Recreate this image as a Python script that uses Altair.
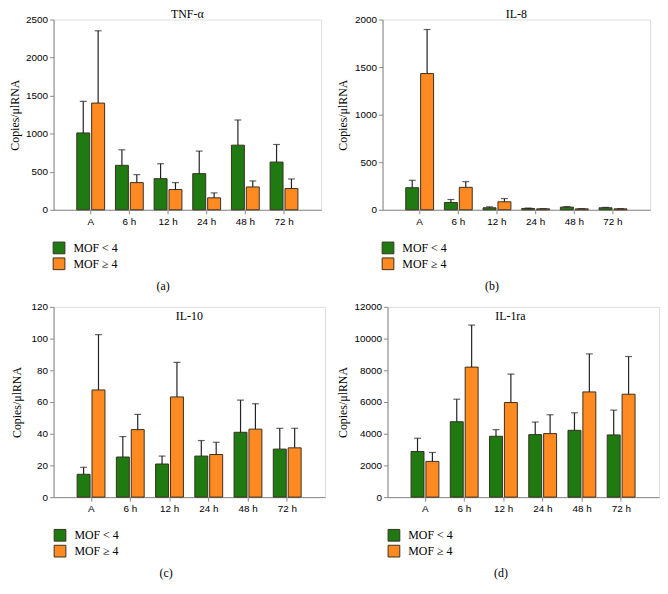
import altair as alt
import pandas as pd

SERIF = "Liberation Serif, Times New Roman, serif"
GREEN = "#1f7a12"
ORANGE = "#ff8a22"

times = ["A", "6 h", "12 h", "24 h", "48 h", "72 h"]
groups = ["MOF < 4", "MOF ≥ 4"]

# TNF-alpha
tnf_lo = [1010, 584, 409, 475, 849, 627]
tnf_lo_up = [1424, 788, 605, 771, 1180, 858]
tnf_hi = [1402, 357, 266, 157, 300, 279]
tnf_hi_up = [2352, 462, 357, 222, 379, 405]

# IL-8
il8_lo = [232, 77, 21, 14, 28, 21]
il8_lo_up = [310, 108, 31, 18, 34, 25]
il8_hi = [1432, 236, 84, 10, 10, 10]
il8_hi_up = [1895, 296, 118, 12, 12, 12]

# IL-10
il10_lo = [14.4, 25.3, 20.9, 25.9, 40.9, 30.3]
il10_lo_up = [18.8, 38.2, 25.9, 35.7, 61.2, 43.4]
il10_hi = [67.6, 42.6, 63.2, 26.9, 42.9, 31.1]
il10_hi_up = [102.5, 52.2, 85.0, 34.6, 58.9, 43.4]

# IL-1ra
il1_lo = [2880, 4758, 3840, 3944, 4215, 3923]
il1_lo_up = [3715, 6177, 4257, 4737, 5321, 5488]
il1_hi = [2254, 8201, 5968, 4007, 6636, 6490]
il1_hi_up = [2817, 10851, 7763, 5196, 9036, 8869]


def panel(name, lo, lo_up, hi, hi_up, dmax, step, width, caption,
          title_offset, title_dx, cap_x, leg_x, ypad):
    rows = []
    for i, t in enumerate(times):
        rows.append({"time": t, "group": groups[0], "value": lo[i], "upper": lo_up[i]})
        rows.append({"time": t, "group": groups[1], "value": hi[i], "upper": hi_up[i]})
    df = pd.DataFrame(rows)

    base = alt.Chart(df).encode(
        x=alt.X("time:N", sort=times,
                scale=alt.Scale(paddingInner=0.28, paddingOuter=0.6),
                axis=alt.Axis(title=caption, labelAngle=0, tickSize=4,
                              labelPadding=3, titleX=cap_x, titleY=76,
                              titleBaseline="middle", titleAlign="center",
                              titleFontSize=12, titleFont=SERIF,
                              titleFontWeight="normal")),
        xOffset=alt.XOffset("group:N", sort=groups,
                            scale=alt.Scale(paddingInner=0.13)),
    )
    yscale = alt.Scale(domain=[0, dmax], nice=False)
    yax = alt.Axis(values=list(range(0, dmax + 1, step)), format="d",
                   title="Copies/μlRNA", labelOverlap=False,
                   tickSize=4, titlePadding=ypad, titleFont=SERIF,
                   titleFontSize=12, titleFontWeight="normal", grid=False)
    bars = base.mark_bar(stroke="#3a3020", strokeWidth=1).encode(
        y=alt.Y("value:Q", scale=yscale, axis=yax),
        color=alt.Color("group:N", sort=groups,
                        scale=alt.Scale(domain=groups, range=[GREEN, ORANGE]),
                        legend=alt.Legend(orient="none", legendX=leg_x, legendY=224,
                                          title=None, symbolType="square",
                                          symbolSize=140, symbolStrokeColor="#3a3020",
                                          symbolStrokeWidth=1, labelFont=SERIF,
                                          labelFontSize=12, rowPadding=-1,
                                          padding=0, labelOffset=8)),
    )
    rules = base.mark_rule(color="#222", strokeWidth=1.2).encode(
        y=alt.Y("value:Q", scale=yscale, axis=yax), y2=alt.Y2("upper:Q"))
    caps = base.mark_tick(color="#222", size=7, thickness=1.2).encode(
        y=alt.Y("upper:Q", scale=yscale, axis=yax))
    return alt.layer(bars, rules, caps).properties(
        width=width, height=192,
        title=alt.TitleParams(text=name, font=SERIF, fontSize=12,
                              fontWeight="normal", offset=title_offset,
                              dx=title_dx, anchor="middle", frame="group"),
    )


a = panel("TNF-α", tnf_lo, tnf_lo_up, tnf_hi, tnf_hi_up, 2500, 500, 270, "(a)",
          -6, 0, 110, -1, 4)
b = panel("IL-8", il8_lo, il8_lo_up, il8_hi, il8_hi_up, 2000, 500, 270, "(b)",
          -6, 0, 110, -1, 5)
c = panel("IL-10", il10_lo, il10_lo_up, il10_hi, il10_hi_up, 120, 20, 274, "(c)",
          -21, 0, 113, 0, 8)
d = panel("IL-1ra", il1_lo, il1_lo_up, il1_hi, il1_hi_up, 12000, 2000, 274, "(d)",
          -21, -13, 114, 0, 5)

row1 = alt.hconcat(a, b, spacing=14).resolve_scale(color="independent")
row2 = alt.hconcat(c, d, spacing=9).resolve_scale(color="independent")

chart = alt.vconcat(row1, row2, spacing=9).resolve_scale(
    color="independent"
).properties(
    padding={"top": -4, "left": 0, "right": 0, "bottom": 0}
).configure_view(
    stroke="#888888", strokeWidth=1.5
).configure_axis(
    domainColor="#333333", tickColor="#333333", labelFont=SERIF,
    labelFontSize=12, labelColor="#111111", grid=False
).configure(background="white")

chart.save("out.html", embed_options={"renderer": "svg", "actions": False})
